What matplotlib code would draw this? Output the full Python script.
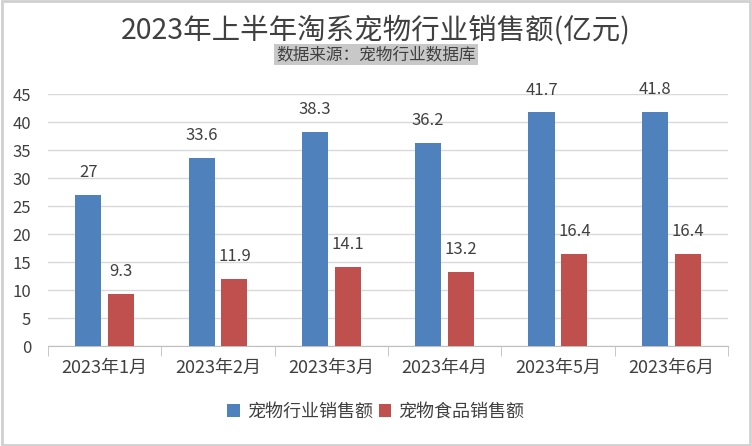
import numpy as np
import matplotlib
matplotlib.use('Agg')
import matplotlib.pyplot as plt
from matplotlib.patches import Rectangle

plt.rcParams['font.family'] = ['Noto Sans CJK SC', 'DejaVu Sans']

# 数据
months = ['2023年1月', '2023年2月', '2023年3月', '2023年4月', '2023年5月', '2023年6月']
industry_sales = [27, 33.6, 38.3, 36.2, 41.7, 41.8]
food_sales = [9.3, 11.9, 14.1, 13.2, 16.4, 16.4]
series_names = ['宠物行业销售额', '宠物食品销售额']
y_ticks = [0, 5, 10, 15, 20, 25, 30, 35, 40, 45]

blue = '#4F81BD'
red = '#C0504D'
text_c = '#404040'

fig = plt.figure(figsize=(7.52, 4.46), dpi=100)
ax = fig.add_axes([0.0638, 0.2242, 0.9042, 0.565])

x = np.arange(len(months))
w = 0.23
b1 = ax.bar(x - 0.145, industry_sales, w, color=blue, label=series_names[0], zorder=3)
b2 = ax.bar(x + 0.145, food_sales, w, color=red, label=series_names[1], zorder=3)

for bars, vals in [(b1, industry_sales), (b2, food_sales)]:
    for r, v in zip(bars, vals):
        ax.annotate(f'{v:g}', (r.get_x() + r.get_width() / 2, v),
                    xytext=(0, 10), textcoords='offset points',
                    ha='center', va='bottom', fontsize=12, color=text_c)

ax.set_xlim(-0.5, len(months) - 0.5)
ax.set_ylim(0, 45)
ax.set_yticks(y_ticks)
ax.yaxis.grid(True, color='#D9D9D9', linewidth=1, zorder=0)
ax.set_axisbelow(True)

ax.set_xticks(x)
ax.set_xticklabels(months, fontsize=13, color=text_c)
ax.set_xticks(np.arange(-0.5, len(months)), minor=True)
ax.tick_params(axis='x', which='major', length=0, pad=9)
ax.tick_params(axis='x', which='minor', length=7, color='#BFBFBF', direction='out')
ax.tick_params(axis='y', length=0, labelsize=12, labelcolor=text_c, pad=12)

for s in ['top', 'right', 'left']:
    ax.spines[s].set_visible(False)
ax.spines['bottom'].set_color('#BFBFBF')

fig.text(0.5, 0.932, '2023年上半年淘系宠物行业销售额(亿元)', ha='center', va='center',
         fontsize=20.5, color=text_c)
fig.text(0.5, 0.878, '数据来源：宠物行业数据库', ha='center', va='center',
         fontsize=12, color=text_c,
         bbox=dict(facecolor='#C8C8C8', edgecolor='none', pad=1.5))

fig.legend(loc='center', bbox_to_anchor=(0.5, 0.076), ncol=2, frameon=False,
           fontsize=13, handlelength=0.7, handleheight=0.7, handletextpad=0.4,
           columnspacing=0.3, labelcolor=text_c)

fig.add_artist(Rectangle((0.002, 0.003), 0.996, 0.994, transform=fig.transFigure,
                         fill=False, edgecolor='#D0D0D0', linewidth=2))

plt.savefig('out.png', dpi=100)
